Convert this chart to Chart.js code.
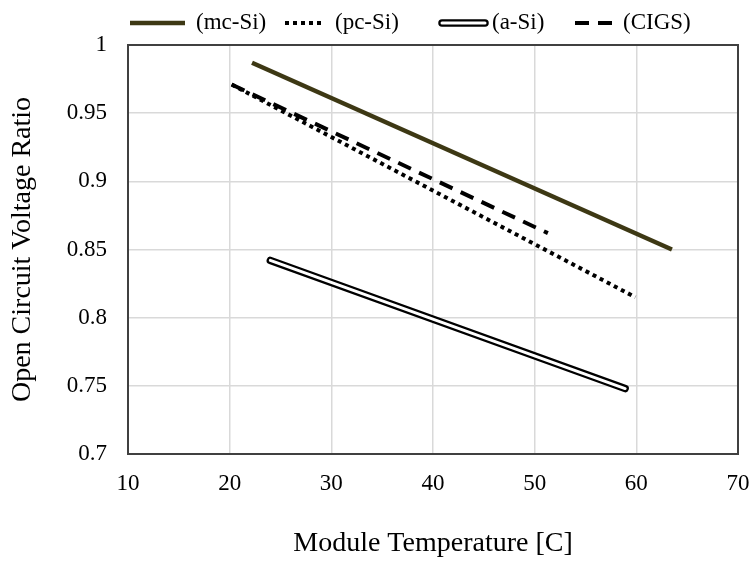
<!DOCTYPE html>
<html lang="en">
<head>
    <meta charset="UTF-8">
    <title>Open Circuit Voltage Ratio</title>
    <script src="https://cdn.jsdelivr.net/npm/chart.js"></script>
    <style>
        body {
            margin: 0;
            background: #fff;
        }
        #wrap {
            width: 754px;
            height: 561px;
        }
    </style>
</head>
<body>
    <div id="wrap"><canvas id="vocChart"></canvas></div>

    <script>
        // values (temperature in C, Voc ratio)
        const mcSiTemp = [22.2, 63.5];
        const mcSiVoc = [0.987, 0.850];
        const pcSiTemp = [20.2, 59.9];
        const pcSiVoc = [0.971, 0.815];
        const aSiTemp = [24.0, 58.9];
        const aSiVoc = [0.842, 0.748];
        const cigsTemp = [20.2, 51.3];
        const cigsVoc = [0.971, 0.862];

        const seriesNames = ['(mc-Si)', '(pc-Si)', '(a-Si)', '(CIGS)'];

        const serif = "'Liberation Serif', 'Times New Roman', serif";

        function points(xs, ys) {
            return xs.map((x, i) => ({ x: x, y: ys[i] }));
        }

        // frame around the plot area
        const framePlugin = {
            id: 'frame',
            afterDraw(chart) {
                const a = chart.chartArea;
                const ctx = chart.ctx;
                ctx.save();
                ctx.strokeStyle = '#404040';
                ctx.lineWidth = 2;
                ctx.strokeRect(a.left, a.top, a.right - a.left, a.bottom - a.top);
                ctx.restore();
            }
        };

        // legend drawn on top, like the original
        const legendPlugin = {
            id: 'topLegend',
            afterDraw(chart) {
                const ctx = chart.ctx;
                const y = 23;
                ctx.save();
                ctx.font = '23px ' + serif;
                ctx.fillStyle = '#000';
                ctx.textBaseline = 'middle';
                ctx.textAlign = 'left';

                // mc-Si
                ctx.strokeStyle = '#3d3814';
                ctx.lineWidth = 4.5;
                ctx.beginPath(); ctx.moveTo(130, y); ctx.lineTo(185, y); ctx.stroke();
                ctx.fillText(seriesNames[0], 196, y);

                // pc-Si
                ctx.strokeStyle = '#000';
                ctx.lineWidth = 4;
                ctx.setLineDash([4, 4]);
                ctx.beginPath(); ctx.moveTo(285, y); ctx.lineTo(323, y); ctx.stroke();
                ctx.setLineDash([]);
                ctx.fillText(seriesNames[1], 335, y);

                // a-Si
                ctx.lineCap = 'round';
                ctx.lineWidth = 7.5;
                ctx.strokeStyle = '#000';
                ctx.beginPath(); ctx.moveTo(442, y); ctx.lineTo(485, y); ctx.stroke();
                ctx.lineWidth = 3;
                ctx.strokeStyle = '#fff';
                ctx.beginPath(); ctx.moveTo(442, y); ctx.lineTo(485, y); ctx.stroke();
                ctx.lineCap = 'butt';
                ctx.fillText(seriesNames[2], 492, y);

                // CIGS
                ctx.strokeStyle = '#000';
                ctx.lineWidth = 4;
                ctx.setLineDash([14, 9]);
                ctx.beginPath(); ctx.moveTo(575, y); ctx.lineTo(612, y); ctx.stroke();
                ctx.setLineDash([]);
                ctx.fillText(seriesNames[3], 623, y);

                ctx.restore();
            }
        };

        // first dataset in the list ends up on top
        const ctx = document.getElementById('vocChart').getContext('2d');
        new Chart(ctx, {
            type: 'scatter',
            data: {
                datasets: [
                    {
                        label: seriesNames[2] + ' inner',
                        data: points(aSiTemp, aSiVoc),
                        showLine: true,
                        borderColor: '#fff',
                        borderWidth: 3,
                        borderCapStyle: 'round',
                        pointRadius: 0
                    },
                    {
                        label: seriesNames[2],
                        data: points(aSiTemp, aSiVoc),
                        showLine: true,
                        borderColor: '#000',
                        borderWidth: 7.5,
                        borderCapStyle: 'round',
                        pointRadius: 0
                    },
                    {
                        label: seriesNames[0],
                        data: points(mcSiTemp, mcSiVoc),
                        showLine: true,
                        borderColor: '#3d3814',
                        borderWidth: 4.5,
                        pointRadius: 0
                    },
                    {
                        label: seriesNames[3],
                        data: points(cigsTemp, cigsVoc),
                        showLine: true,
                        borderColor: '#000',
                        borderWidth: 4,
                        borderDash: [14, 9],
                        pointRadius: 0
                    },
                    {
                        label: seriesNames[1],
                        data: points(pcSiTemp, pcSiVoc),
                        showLine: true,
                        borderColor: '#000',
                        borderWidth: 4,
                        borderDash: [4, 4],
                        pointRadius: 0
                    }
                ]
            },
            options: {
                responsive: true,
                maintainAspectRatio: false,
                animation: false,
                layout: {
                    padding: { top: 45, right: 16, left: 0, bottom: 0 }
                },
                plugins: {
                    legend: { display: false },
                    tooltip: { enabled: false }
                },
                scales: {
                    x: {
                        type: 'linear',
                        min: 10,
                        max: 70,
                        ticks: {
                            stepSize: 10,
                            padding: 16,
                            color: '#000',
                            font: { family: serif, size: 23 }
                        },
                        grid: { color: '#d9d9d9', lineWidth: 1.5, drawTicks: false },
                        border: { display: false },
                        title: {
                            display: true,
                            text: 'Module Temperature [C]',
                            color: '#000',
                            font: { family: serif, size: 28 },
                            padding: { top: 0, bottom: 1 }
                        },
                        afterFit(scale) {
                            scale.height = 107;
                            scale.paddingLeft = 0;
                            scale.paddingRight = 0;
                        }
                    },
                    y: {
                        min: 0.7,
                        max: 1,
                        ticks: {
                            stepSize: 0.05,
                            padding: 21,
                            color: '#000',
                            font: { family: serif, size: 23 },
                            callback: v => String(parseFloat(v.toFixed(2)))
                        },
                        grid: { color: '#d9d9d9', lineWidth: 1.5, drawTicks: false },
                        border: { display: false },
                        title: {
                            display: true,
                            text: 'Open Circuit Voltage Ratio',
                            color: '#000',
                            font: { family: serif, size: 28 },
                            padding: { top: 6, bottom: 0 }
                        },
                        afterFit(scale) {
                            scale.width = 128;
                            scale.paddingTop = 0;
                            scale.paddingBottom = 0;
                        }
                    }
                }
            },
            plugins: [framePlugin, legendPlugin]
        });
    </script>
</body>
</html>
